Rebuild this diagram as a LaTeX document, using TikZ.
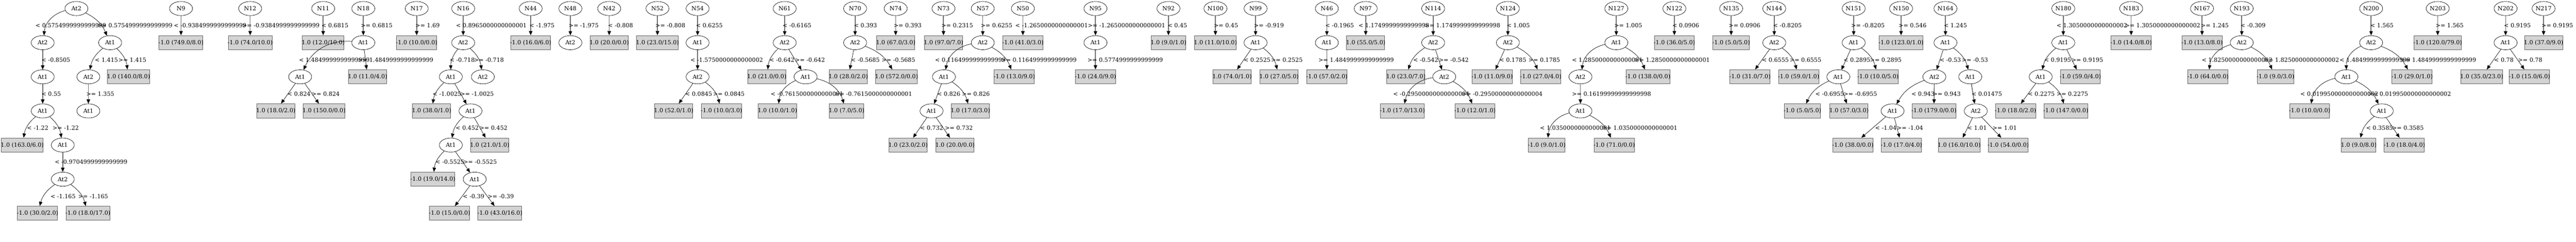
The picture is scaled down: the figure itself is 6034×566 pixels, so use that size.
\documentclass[tikz,border=0pt]{standalone}
\usepackage{fontspec}
\setmainfont{DejaVu Serif}
\usepackage{tikz}
\usetikzlibrary{shapes.geometric,arrows.meta,positioning}
\definecolor{leaffill}{RGB}{211,211,211}
\definecolor{leafline}{RGB}{102,102,102}
\definecolor{stemgray}{RGB}{112,112,112}

\begin{document}
\begin{tikzpicture}[x=0.75pt,y=-0.75pt,
    font=\fontsize{10.1}{12}\selectfont,
    attr/.style={ellipse,draw,line width=0.6pt,minimum width=40.5pt,minimum height=24.75pt,inner sep=0pt},
    leaf/.style={rectangle,draw=leafline,fill=leaffill,line width=0.9pt,minimum height=24.75pt,inner xsep=-1pt,inner ysep=0pt},
    cond/.style={anchor=west,inner sep=0pt},
    stem/.style={draw=stemgray,line width=1.5pt,-{Triangle[length=7.5pt,width=6pt,color=black]}},
    split/.style={line width=0.6pt,-{Triangle[length=7.5pt,width=6pt]}},
    lo/.style={split,bend right=20},
    hi/.style={split,bend left=20}]
    \useasboundingbox (0,0) rectangle (6034,566);

    % Tree At2 (no number)
    \node[attr] (top) at (179,20) {At2};
    \node[attr] (topl) at (100,100) {At2};
    \node[attr] (topr) at (258,100) {At1};
    \node[attr] (topll) at (100,180) {At1};
    \node[attr] (toplll) at (100,260) {At1};
    \node[leaf] (topllll) at (52,340) {1.0 (163.0/6.0)};
    \node[attr] (toplllr) at (147,340) {At1};
    \node[attr] (toplllrl) at (147,420) {At2};
    \node[leaf] (toplllrll) at (88,500) {-1.0 (30.0/2.0)};
    \node[leaf] (toplllrlr) at (206,500) {-1.0 (18.0/17.0)};
    \node[attr] (toprl) at (207,180) {At2};
    \node[leaf] (toprr) at (301,180) {1.0 (140.0/8.0)};
    \node[attr] (toprlr) at (207,260) {At1};
    \draw[lo,bend right=35] (top) to (topl);
    \draw[hi] (top) to (topr);
    \draw[stem] (topl) -- (topll);
    \draw[stem] (topll) -- (toplll);
    \draw[lo] (toplll) to (topllll);
    \draw[hi] (toplll) to (toplllr);
    \draw[stem] (toplllr) -- (toplllrl);
    \draw[lo] (toplllrl) to (toplllrll);
    \draw[hi] (toplllrl) to (toplllrlr);
    \draw[lo] (topr) to (toprl);
    \draw[hi] (topr) to (toprr);
    \draw[stem] (toprl) -- (toprlr);
    \node[cond] (toplc) at (83,60) {< 0.5754999999999999};
    \node[cond] (toprc) at (227,60) {>= 0.5754999999999999};
    \node[cond] (topllc) at (97,140) {< -0.8505};
    \node[cond] (toplllc) at (97,220) {< 0.55};
    \node[cond] (topllllc) at (63,300) {< -1.22};
    \node[cond] (toplllrc) at (123,300) {>= -1.22};
    \node[cond] (toplllrlc) at (128,380) {< -0.9704999999999999};
    \node[cond] (toplllrllc) at (118,460) {< -1.165};
    \node[cond] (toplllrlrc) at (183,460) {>= -1.165};
    \node[cond] (toprlc) at (222,140) {< 1.415};
    \node[cond] (toprrc) at (277,140) {>= 1.415};
    \node[cond] (toprlrc) at (202,220) {>= 1.355};

    % Trees N9, N12, N11
    \node[attr] (n9) at (424,20) {N9};
    \node[leaf] (n9x) at (424,100) {-1.0 (749.0/8.0)};
    \draw[stem] (n9) -- (n9x);
    \node[cond] (n9xc) at (407,60) {< -0.9384999999999999};
    \node[attr] (n12) at (586,20) {N12};
    \node[leaf] (n12x) at (586,100) {-1.0 (74.0/10.0)};
    \draw[stem] (n12) -- (n12x);
    \node[cond] (n12xc) at (567,60) {>= -0.9384999999999999};
    \node[attr] (n11) at (757,20) {N11};
    \node[leaf] (n11x) at (757,100) {1.0 (12.0/10.0)};
    \draw[stem] (n11) -- (n11x);
    \node[cond] (n11xc) at (753,60) {< 0.6815};

    % Tree N18
    \node[attr] (n18) at (851,20) {N18};
    \node[attr] (n18x) at (851,100) {At1};
    \node[attr] (n18l) at (703,180) {At1};
    \node[leaf] (n18r) at (861,180) {1.0 (11.0/4.0)};
    \node[leaf] (n18ll) at (646,260) {1.0 (18.0/2.0)};
    \node[leaf] (n18lr) at (759,260) {1.0 (150.0/0.0)};
    \draw[stem] (n18) -- (n18x);
    \draw[lo,bend right=35] (n18x) to (n18l);
    \draw[split] (n18x) -- (n18r);
    \draw[split] (n18l) -- (n18ll);
    \draw[split] (n18l) -- (n18lr);
    \node[cond] (n18xc) at (845,60) {>= 0.6815};
    \node[cond] (n18lc) at (700,140) {< 1.4849999999999999};
    \node[cond] (n18rc) at (838,140) {>= 1.4849999999999999};
    \node[cond] (n18llc) at (673,220) {< 0.824};
    \node[cond] (n18lrc) at (730,220) {>= 0.824};

    % Tree N17
    \node[attr] (n17) at (976,20) {N17};
    \node[leaf] (n17x) at (976,100) {-1.0 (10.0/0.0)};
    \draw[stem] (n17) -- (n17x);
    \node[cond] (n17xc) at (973,60) {>= 1.69};

    % Tree N16
    \node[attr] (n16) at (1085,20) {N16};
    \node[attr] (n16x) at (1085,100) {At2};
    \node[attr] (n16l) at (1056,180) {At1};
    \node[attr] (n16r) at (1131,180) {At2};
    \node[leaf] (n16ll) at (1011,260) {1.0 (38.0/1.0)};
    \node[attr] (n16lr) at (1102,260) {At1};
    \node[attr] (n16lrl) at (1056,340) {At1};
    \node[leaf] (n16lrr) at (1147,340) {1.0 (21.0/1.0)};
    \node[leaf] (n16lrll) at (1014,420) {-1.0 (19.0/14.0)};
    \node[attr] (n16lrlr) at (1112,420) {At1};
    \node[leaf] (n16lrlrl) at (1053,500) {-1.0 (15.0/0.0)};
    \node[leaf] (n16lrlrr) at (1171,500) {-1.0 (43.0/16.0)};
    \draw[stem] (n16) -- (n16x);
    \draw[lo] (n16x) to (n16l);
    \draw[hi] (n16x) to (n16r);
    \draw[lo] (n16l) to (n16ll);
    \draw[split] (n16l) -- (n16lr);
    \draw[lo] (n16lr) to (n16lrl);
    \draw[split] (n16lr) -- (n16lrr);
    \draw[lo] (n16lrl) to (n16lrll);
    \draw[split] (n16lrl) -- (n16lrlr);
    \draw[split] (n16lrlr) -- (n16lrlrl);
    \draw[split] (n16lrlr) -- (n16lrlrr);
    \node[cond] (n16xc) at (1068,60) {< 0.8965000000000001};
    \node[cond] (n16lc) at (1053,140) {< -0.718};
    \node[cond] (n16rc) at (1110,140) {>= -0.718};
    \node[cond] (n16llc) at (1013,220) {< -1.0025};
    \node[cond] (n16lrc) at (1078,220) {>= -1.0025};
    \node[cond] (n16lrlc) at (1067,300) {< 0.452};
    \node[cond] (n16lrrc) at (1123,300) {>= 0.452};
    \node[cond] (n16lrllc) at (1020,380) {< -0.5525};
    \node[cond] (n16lrlrc) at (1085,380) {>= -0.5525};
    \node[cond] (n16lrlrlc) at (1084,460) {< -0.39};
    \node[cond] (n16lrlrrc) at (1142,460) {>= -0.39};

    % Trees N44, N48, N42, N52
    \node[attr] (n44) at (1243,20) {N44};
    \node[leaf] (n44x) at (1243,100) {-1.0 (16.0/6.0)};
    \draw[stem] (n44) -- (n44x);
    \node[cond] (n44xc) at (1240,60) {< -1.975};
    \node[attr] (n48) at (1336,20) {N48};
    \node[attr] (n48x) at (1336,100) {At2};
    \draw[stem] (n48) -- (n48x);
    \node[cond] (n48xc) at (1332,60) {>= -1.975};
    \node[attr] (n42) at (1427,20) {N42};
    \node[leaf] (n42x) at (1427,100) {1.0 (20.0/0.0)};
    \draw[stem] (n42) -- (n42x);
    \node[cond] (n42xc) at (1424,60) {< -0.808};
    \node[attr] (n52) at (1540,20) {N52};
    \node[leaf] (n52x) at (1540,100) {1.0 (23.0/15.0)};
    \draw[stem] (n52) -- (n52x);
    \node[cond] (n52xc) at (1535,60) {>= -0.808};

    % Tree N54
    \node[attr] (n54) at (1634,20) {N54};
    \node[attr] (n54x) at (1634,100) {At1};
    \node[attr] (n54l) at (1634,180) {At2};
    \node[leaf] (n54ll) at (1578,260) {1.0 (52.0/1.0)};
    \node[leaf] (n54lr) at (1690,260) {-1.0 (10.0/3.0)};
    \draw[stem] (n54) -- (n54x);
    \draw[stem] (n54x) -- (n54l);
    \draw[split] (n54l) -- (n54ll);
    \draw[hi] (n54l) to (n54lr);
    \node[cond] (n54xc) at (1630,60) {< 0.6255};
    \node[cond] (n54lc) at (1617,140) {< -1.5750000000000002};
    \node[cond] (n54llc) at (1605,220) {< 0.0845};
    \node[cond] (n54lrc) at (1670,220) {>= 0.0845};

    % Tree N61
    \node[attr] (n61) at (1838,20) {N61};
    \node[attr] (n61x) at (1838,100) {At2};
    \node[leaf] (n61l) at (1796,180) {1.0 (21.0/0.0)};
    \node[attr] (n61r) at (1887,180) {At1};
    \node[leaf] (n61rl) at (1821,260) {1.0 (10.0/1.0)};
    \node[leaf] (n61rr) at (1983,260) {1.0 (7.0/5.0)};
    \draw[stem] (n61) -- (n61x);
    \draw[lo] (n61x) to (n61l);
    \draw[split] (n61x) -- (n61r);
    \draw[lo,bend right=30] (n61r) to (n61rl);
    \draw[hi,bend left=30] (n61r) to (n61rr);
    \node[cond] (n61xc) at (1833,60) {< -0.6165};
    \node[cond] (n61lc) at (1802,140) {< -0.642};
    \node[cond] (n61rc) at (1862,140) {>= -0.642};
    \node[cond] (n61rlc) at (1805,220) {< -0.7615000000000001};
    \node[cond] (n61rrc) at (1955,220) {>= -0.7615000000000001};

    % Tree N70
    \node[attr] (n70) at (2003,20) {N70};
    \node[attr] (n70x) at (2003,100) {At2};
    \node[leaf] (n70l) at (1987,180) {1.0 (28.0/2.0)};
    \node[leaf] (n70r) at (2100,180) {1.0 (572.0/0.0)};
    \draw[stem] (n70) -- (n70x);
    \draw[split] (n70x) -- (n70l);
    \draw[hi] (n70x) to (n70r);
    \node[cond] (n70xc) at (2000,60) {< 0.393};
    \node[cond] (n70lc) at (1993,140) {< -0.5685};
    \node[cond] (n70rc) at (2065,140) {>= -0.5685};

    % Trees N74, N73
    \node[attr] (n74) at (2098,20) {N74};
    \node[leaf] (n74x) at (2098,100) {1.0 (67.0/3.0)};
    \draw[stem] (n74) -- (n74x);
    \node[cond] (n74xc) at (2093,60) {>= 0.393};
    \node[attr] (n73) at (2210,20) {N73};
    \node[leaf] (n73x) at (2210,100) {1.0 (97.0/7.0)};
    \draw[stem] (n73) -- (n73x);
    \node[cond] (n73xc) at (2205,60) {>= 0.2315};

    % Tree N57
    \node[attr] (n57) at (2302,20) {N57};
    \node[attr] (n57x) at (2302,100) {At2};
    \node[attr] (n57l) at (2211,180) {At1};
    \node[leaf] (n57r) at (2376,180) {-1.0 (13.0/9.0)};
    \node[attr] (n57ll) at (2182,260) {At1};
    \node[leaf] (n57lr) at (2273,260) {1.0 (17.0/3.0)};
    \node[leaf] (n57lll) at (2127,340) {1.0 (23.0/2.0)};
    \node[leaf] (n57llr) at (2237,340) {1.0 (20.0/0.0)};
    \draw[stem] (n57) -- (n57x);
    \draw[lo,bend right=35] (n57x) to (n57l);
    \draw[hi] (n57x) to (n57r);
    \draw[split] (n57l) -- (n57ll);
    \draw[hi] (n57l) to (n57lr);
    \draw[split] (n57ll) -- (n57lll);
    \draw[split] (n57ll) -- (n57llr);
    \node[cond] (n57xc) at (2297,60) {>= 0.6255};
    \node[cond] (n57lc) at (2190,140) {< 0.1164999999999999};
    \node[cond] (n57rc) at (2345,140) {>= 0.1164999999999999};
    \node[cond] (n57llc) at (2195,220) {< 0.826};
    \node[cond] (n57lrc) at (2253,220) {>= 0.826};
    \node[cond] (n57lllc) at (2155,300) {< 0.732};
    \node[cond] (n57llrc) at (2213,300) {>= 0.732};

    % Trees N50, N95, N92, N100
    \node[attr] (n50) at (2396,20) {N50};
    \node[leaf] (n50x) at (2396,100) {-1.0 (41.0/3.0)};
    \draw[stem] (n50) -- (n50x);
    \node[cond] (n50xc) at (2378,60) {< -1.2650000000000001};
    \node[attr] (n95) at (2566,20) {N95};
    \node[attr] (n95x) at (2566,100) {At1};
    \node[leaf] (n95r) at (2566,180) {-1.0 (24.0/9.0)};
    \draw[stem] (n95) -- (n95x);
    \draw[stem] (n95x) -- (n95r);
    \node[cond] (n95xc) at (2548,60) {>= -1.2650000000000001};
    \node[cond] (n95rc) at (2547,140) {>= 0.5774999999999999};
    \node[attr] (n92) at (2737,20) {N92};
    \node[leaf] (n92x) at (2737,100) {1.0 (9.0/1.0)};
    \draw[stem] (n92) -- (n92x);
    \node[cond] (n92xc) at (2735,60) {< 0.45};
    \node[attr] (n100) at (2847,20) {N100};
    \node[leaf] (n100x) at (2847,100) {1.0 (11.0/10.0)};
    \draw[stem] (n100) -- (n100x);
    \node[cond] (n100xc) at (2843,60) {>= 0.45};

    % Tree N99
    \node[attr] (n99) at (2941,20) {N99};
    \node[attr] (n99x) at (2941,100) {At1};
    \node[leaf] (n99l) at (2886,180) {1.0 (74.0/1.0)};
    \node[leaf] (n99r) at (2996,180) {1.0 (27.0/5.0)};
    \draw[stem] (n99) -- (n99x);
    \draw[split] (n99x) -- (n99l);
    \draw[hi] (n99x) to (n99r);
    \node[cond] (n99xc) at (2937,60) {>= -0.919};
    \node[cond] (n99lc) at (2913,140) {< 0.2525};
    \node[cond] (n99rc) at (2977,140) {>= 0.2525};

    % Trees N46, N97
    \node[attr] (n46) at (3108,20) {N46};
    \node[attr] (n46x) at (3108,100) {At1};
    \node[leaf] (n46r) at (3108,180) {-1.0 (57.0/2.0)};
    \draw[stem] (n46) -- (n46x);
    \draw[stem] (n46x) -- (n46r);
    \node[cond] (n46xc) at (3104,60) {< -0.1965};
    \node[cond] (n46rc) at (3088,140) {>= 1.4849999999999999};
    \node[attr] (n97) at (3199,20) {N97};
    \node[leaf] (n97x) at (3199,100) {1.0 (55.0/5.0)};
    \draw[stem] (n97) -- (n97x);
    \node[cond] (n97xc) at (3182,60) {< 1.1749999999999998};

    % Tree N114
    \node[attr] (n114) at (3357,20) {N114};
    \node[attr] (n114x) at (3357,100) {At2};
    \node[leaf] (n114l) at (3293,180) {1.0 (23.0/7.0)};
    \node[attr] (n114r) at (3383,180) {At2};
    \node[leaf] (n114rl) at (3285,260) {-1.0 (17.0/13.0)};
    \node[leaf] (n114rr) at (3455,260) {-1.0 (12.0/1.0)};
    \draw[stem] (n114) -- (n114x);
    \draw[lo] (n114x) to (n114l);
    \draw[split] (n114x) -- (n114r);
    \draw[lo,bend right=35] (n114r) to (n114rl);
    \draw[hi] (n114r) to (n114rr);
    \node[cond] (n114xc) at (3337,60) {>= 1.1749999999999998};
    \node[cond] (n114lc) at (3310,140) {< -0.542};
    \node[cond] (n114rc) at (3370,140) {>= -0.542};
    \node[cond] (n114rlc) at (3263,220) {< -0.29500000000000004};
    \node[cond] (n114rrc) at (3423,220) {>= -0.29500000000000004};

    % Tree N124
    \node[attr] (n124) at (3532,20) {N124};
    \node[attr] (n124x) at (3532,100) {At2};
    \node[leaf] (n124l) at (3495,180) {-1.0 (11.0/9.0)};
    \node[leaf] (n124r) at (3609,180) {-1.0 (27.0/4.0)};
    \draw[stem] (n124) -- (n124x);
    \draw[split] (n124x) -- (n124l);
    \draw[hi] (n124x) to (n124r);
    \node[cond] (n124xc) at (3529,60) {< 1.005};
    \node[cond] (n124lc) at (3512,140) {< 0.1785};
    \node[cond] (n124rc) at (3580,140) {>= 0.1785};

    % Tree N127
    \node[attr] (n127) at (3786,20) {N127};
    \node[attr] (n127x) at (3786,100) {At1};
    \node[attr] (n127l) at (3702,180) {At2};
    \node[leaf] (n127r) at (3860,180) {-1.0 (138.0/0.0)};
    \node[attr] (n127lr) at (3702,260) {At1};
    \node[leaf] (n127lrl) at (3623,340) {-1.0 (9.0/1.0)};
    \node[leaf] (n127lrr) at (3781,340) {-1.0 (71.0/0.0)};
    \draw[stem] (n127) -- (n127x);
    \draw[lo,bend right=35] (n127x) to (n127l);
    \draw[hi] (n127x) to (n127r);
    \draw[stem] (n127l) -- (n127lr);
    \draw[lo,bend right=35] (n127lr) to (n127lrl);
    \draw[hi] (n127lr) to (n127lrr);
    \node[cond] (n127xc) at (3781,60) {>= 1.005};
    \node[cond] (n127lc) at (3682,140) {< 1.2850000000000001};
    \node[cond] (n127rc) at (3828,140) {>= 1.2850000000000001};
    \node[cond] (n127lrc) at (3682,220) {>= 0.16199999999999998};
    \node[cond] (n127lrlc) at (3607,300) {< 1.0350000000000001};
    \node[cond] (n127lrrc) at (3752,300) {>= 1.0350000000000001};

    % Trees N122, N135
    \node[attr] (n122) at (3922,20) {N122};
    \node[leaf] (n122x) at (3922,100) {-1.0 (36.0/5.0)};
    \draw[stem] (n122) -- (n122x);
    \node[cond] (n122xc) at (3917,60) {< 0.0906};
    \node[attr] (n135) at (4055,20) {N135};
    \node[leaf] (n135x) at (4055,100) {-1.0 (5.0/5.0)};
    \draw[stem] (n135) -- (n135x);
    \node[cond] (n135xc) at (4049,60) {>= 0.0906};

    % Tree N144
    \node[attr] (n144) at (4156,20) {N144};
    \node[attr] (n144x) at (4156,100) {At2};
    \node[leaf] (n144l) at (4099,180) {-1.0 (31.0/7.0)};
    \node[leaf] (n144r) at (4213,180) {-1.0 (59.0/1.0)};
    \draw[stem] (n144) -- (n144x);
    \draw[split] (n144x) -- (n144l);
    \draw[hi] (n144x) to (n144r);
    \node[cond] (n144xc) at (4153,60) {< -0.8205};
    \node[cond] (n144lc) at (4127,140) {< 0.6555};
    \node[cond] (n144rc) at (4192,140) {>= 0.6555};

    % Tree N151
    \node[attr] (n151) at (4342,20) {N151};
    \node[attr] (n151x) at (4342,100) {At1};
    \node[attr] (n151l) at (4306,180) {At1};
    \node[leaf] (n151r) at (4399,180) {-1.0 (10.0/5.0)};
    \node[leaf] (n151ll) at (4222,260) {-1.0 (5.0/5.0)};
    \node[leaf] (n151lr) at (4331,260) {1.0 (57.0/3.0)};
    \draw[stem] (n151) -- (n151x);
    \draw[split] (n151x) -- (n151l);
    \draw[hi] (n151x) to (n151r);
    \draw[lo] (n151l) to (n151ll);
    \draw[split] (n151l) -- (n151lr);
    \node[cond] (n151xc) at (4336,60) {>= -0.8205};
    \node[cond] (n151lc) at (4318,140) {< 0.2895};
    \node[cond] (n151rc) at (4380,140) {>= 0.2895};
    \node[cond] (n151llc) at (4252,220) {< -0.6955};
    \node[cond] (n151lrc) at (4318,220) {>= -0.6955};

    % Tree N150
    \node[attr] (n150) at (4453,20) {N150};
    \node[leaf] (n150x) at (4453,100) {-1.0 (123.0/1.0)};
    \draw[stem] (n150) -- (n150x);
    \node[cond] (n150xc) at (4447,60) {>= 0.546};

    % Tree N164
    \node[attr] (n164) at (4557,20) {N164};
    \node[attr] (n164x) at (4557,100) {At1};
    \node[attr] (n164l) at (4531,180) {At2};
    \node[attr] (n164r) at (4615,180) {At1};
    \node[attr] (n164ll) at (4433,260) {At1};
    \node[leaf] (n164lr) at (4530,260) {-1.0 (179.0/0.0)};
    \node[leaf] (n164lll) at (4340,340) {-1.0 (38.0/0.0)};
    \node[leaf] (n164llr) at (4454,340) {-1.0 (17.0/4.0)};
    \node[attr] (n164rl) at (4628,260) {At2};
    \node[leaf] (n164rll) at (4589,340) {1.0 (16.0/10.0)};
    \node[leaf] (n164rlr) at (4704,340) {-1.0 (54.0/0.0)};
    \draw[stem] (n164) -- (n164x);
    \draw[split] (n164x) -- (n164l);
    \draw[hi] (n164x) to (n164r);
    \draw[lo] (n164l) to (n164ll);
    \draw[stem] (n164l) -- (n164lr);
    \draw[split] (n164ll) -- (n164lll);
    \draw[split] (n164ll) -- (n164llr);
    \draw[stem] (n164r) -- (n164rl);
    \draw[split] (n164rl) -- (n164rll);
    \draw[split] (n164rl) -- (n164rlr);
    \node[cond] (n164xc) at (4553,60) {< 1.245};
    \node[cond] (n164lc) at (4543,140) {< -0.53};
    \node[cond] (n164rc) at (4595,140) {>= -0.53};
    \node[cond] (n164llc) at (4477,220) {< 0.943};
    \node[cond] (n164lrc) at (4527,220) {>= 0.943};
    \node[cond] (n164lllc) at (4392,300) {< -1.04};
    \node[cond] (n164llrc) at (4443,300) {>= -1.04};
    \node[cond] (n164rlc) at (4618,220) {< 0.01475};
    \node[cond] (n164rllc) at (4608,300) {< 1.01};
    \node[cond] (n164rlrc) at (4667,300) {>= 1.01};

    % Tree N180
    \node[attr] (n180) at (4833,20) {N180};
    \node[attr] (n180x) at (4833,100) {At1};
    \node[attr] (n180l) at (4780,180) {At1};
    \node[leaf] (n180r) at (4873,180) {-1.0 (59.0/4.0)};
    \node[leaf] (n180ll) at (4721,260) {-1.0 (18.0/2.0)};
    \node[leaf] (n180lr) at (4839,260) {-1.0 (147.0/0.0)};
    \draw[stem] (n180) -- (n180x);
    \draw[lo] (n180x) to (n180l);
    \draw[split] (n180x) -- (n180r);
    \draw[split] (n180l) -- (n180ll);
    \draw[hi] (n180l) to (n180lr);
    \node[cond] (n180xc) at (4817,60) {< 1.3050000000000002};
    \node[cond] (n180lc) at (4788,140) {< 0.9195};
    \node[cond] (n180rc) at (4852,140) {>= 0.9195};
    \node[cond] (n180llc) at (4750,220) {< 0.2275};
    \node[cond] (n180lrc) at (4817,220) {>= 0.2275};

    % Trees N183, N167
    \node[attr] (n183) at (4992,20) {N183};
    \node[leaf] (n183x) at (4992,100) {-1.0 (14.0/8.0)};
    \draw[stem] (n183) -- (n183x);
    \node[cond] (n183xc) at (4977,60) {>= 1.3050000000000002};
    \node[attr] (n167) at (5158,20) {N167};
    \node[leaf] (n167x) at (5158,100) {-1.0 (13.0/8.0)};
    \draw[stem] (n167) -- (n167x);
    \node[cond] (n167xc) at (5155,60) {>= 1.245};

    % Tree N193
    \node[attr] (n193) at (5251,20) {N193};
    \node[attr] (n193x) at (5251,100) {At2};
    \node[leaf] (n193l) at (5172,180) {-1.0 (64.0/0.0)};
    \node[leaf] (n193r) at (5330,180) {-1.0 (9.0/3.0)};
    \draw[stem] (n193) -- (n193x);
    \draw[lo,bend right=35] (n193x) to (n193l);
    \draw[hi] (n193x) to (n193r);
    \node[cond] (n193xc) at (5248,60) {< -0.309};
    \node[cond] (n193lc) at (5157,140) {< 1.8250000000000002};
    \node[cond] (n193rc) at (5302,140) {>= 1.8250000000000002};

    % Tree N200
    \node[attr] (n200) at (5554,20) {N200};
    \node[attr] (n200x) at (5554,100) {At2};
    \node[attr] (n200l) at (5496,180) {At1};
    \node[leaf] (n200r) at (5650,180) {-1.0 (29.0/1.0)};
    \node[leaf] (n200ll) at (5410,260) {-1.0 (10.0/0.0)};
    \node[attr] (n200lr) at (5579,260) {At1};
    \node[leaf] (n200lrl) at (5525,340) {1.0 (9.0/8.0)};
    \node[leaf] (n200lrr) at (5632,340) {-1.0 (18.0/4.0)};
    \draw[stem] (n200) -- (n200x);
    \draw[lo,bend right=35] (n200x) to (n200l);
    \draw[hi] (n200x) to (n200r);
    \draw[lo,bend right=35] (n200l) to (n200ll);
    \draw[hi] (n200l) to (n200lr);
    \draw[lo] (n200lr) to (n200lrl);
    \draw[split] (n200lr) -- (n200lrr);
    \node[cond] (n200xc) at (5552,60) {< 1.565};
    \node[cond] (n200lc) at (5480,140) {< 1.4849999999999999};
    \node[cond] (n200rc) at (5623,140) {>= 1.4849999999999999};
    \node[cond] (n200llc) at (5388,220) {< 0.019950000000000002};
    \node[cond] (n200lrc) at (5547,220) {>= 0.019950000000000002};
    \node[cond] (n200lrlc) at (5542,300) {< 0.3585};
    \node[cond] (n200lrrc) at (5603,300) {>= 0.3585};

    % Trees N203, N202, N217
    \node[attr] (n203) at (5710,20) {N203};
    \node[leaf] (n203x) at (5710,100) {-1.0 (120.0/79.0)};
    \draw[stem] (n203) -- (n203x);
    \node[cond] (n203xc) at (5705,60) {>= 1.565};
    \node[attr] (n202) at (5869,20) {N202};
    \node[attr] (n202x) at (5869,100) {At1};
    \node[leaf] (n202l) at (5813,180) {1.0 (35.0/23.0)};
    \node[leaf] (n202r) at (5925,180) {-1.0 (15.0/6.0)};
    \draw[stem] (n202) -- (n202x);
    \draw[split] (n202x) -- (n202l);
    \draw[split] (n202x) -- (n202r);
    \node[cond] (n202xc) at (5865,60) {< 0.9195};
    \node[cond] (n202lc) at (5842,140) {< 0.78};
    \node[cond] (n202rc) at (5898,140) {>= 0.78};
    \node[attr] (n217) at (5958,20) {N217};
    \node[leaf] (n217x) at (5958,100) {1.0 (37.0/9.0)};
    \draw[stem] (n217) -- (n217x);
    \node[cond] (n217xc) at (5953,60) {>= 0.9195};
\end{tikzpicture}
\end{document}
